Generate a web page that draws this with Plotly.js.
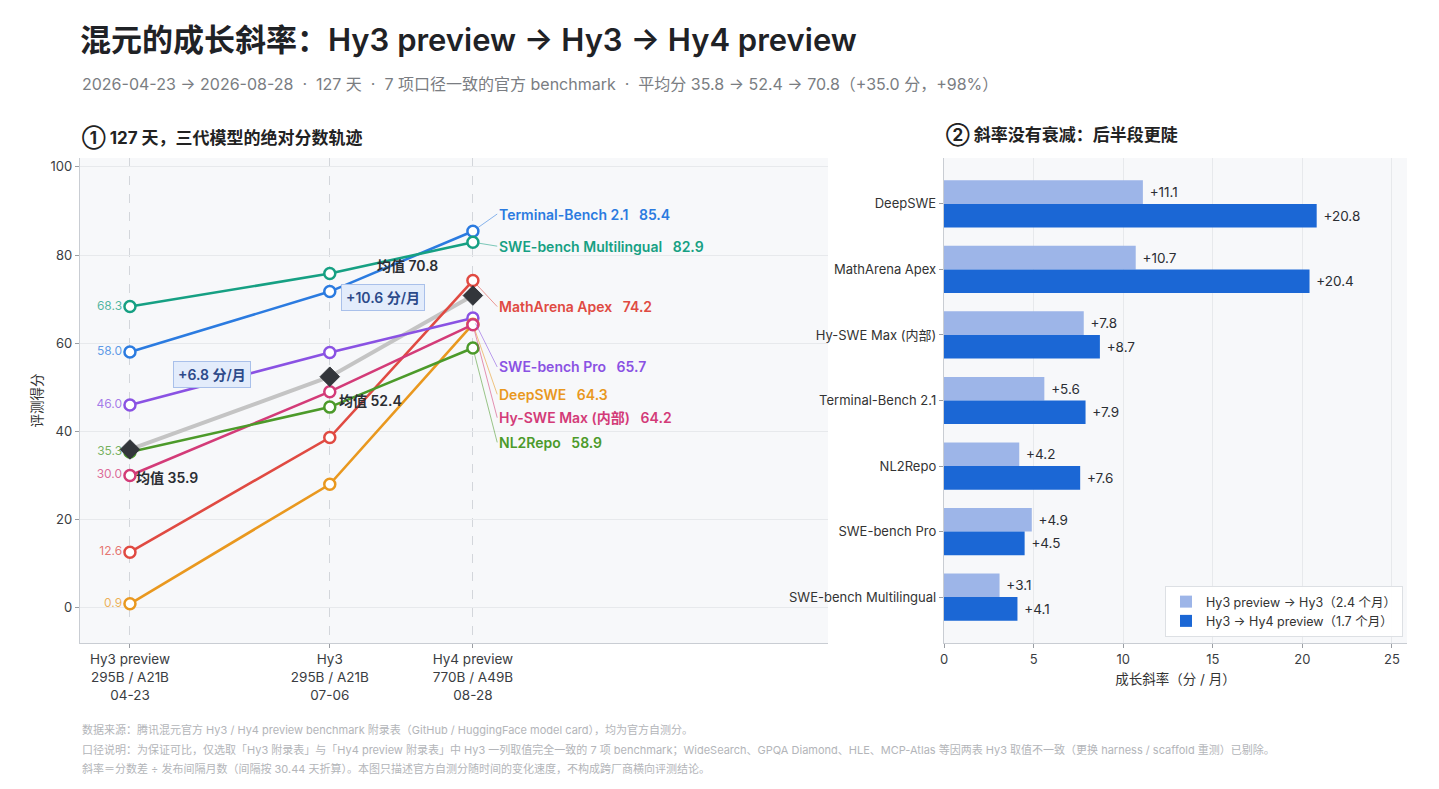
<!DOCTYPE html>
<html>
<head>
<meta charset="utf-8">
<script src="https://cdn.plot.ly/plotly-3.0.1.min.js"></script>
<style>
  html, body { margin: 0; padding: 0; background: #ffffff; }
  #chart { width: 1439px; height: 789px; }
</style>
</head>
<body>
<div id="chart"></div>
<script>
// ---------------- DATA ----------------
const releaseDates = ['04-23', '07-06', '08-28'];
const modelNames = ['Hy3 preview', 'Hy3', 'Hy4 preview'];
const modelParams = ['295B / A21B', '295B / A21B', '770B / A49B'];
const releaseDay = [0, 74, 127]; // days since 2026-04-23

const seriesNames = ['Terminal-Bench 2.1', 'SWE-bench Multilingual', 'MathArena Apex', 'SWE-bench Pro', 'DeepSWE', 'Hy-SWE Max (内部)', 'NL2Repo'];
const terminalBench = [58.0, 71.7, 85.4];
const sweMultilingual = [68.3, 75.8, 82.9];
const mathArena = [12.6, 38.6, 74.2];
const sweBenchPro = [46.0, 57.9, 65.7];
const deepSWE = [0.9, 28.0, 64.3];
const hySweMax = [30.0, 49.0, 64.2];
const nl2Repo = [35.3, 45.5, 58.9];
const meanScores = [35.9, 52.4, 70.8];
const meanSlopeLabels = ['+6.8 分/月', '+10.6 分/月'];

const slopeCategories = ['DeepSWE', 'MathArena Apex', 'Hy-SWE Max (内部)', 'Terminal-Bench 2.1', 'NL2Repo', 'SWE-bench Pro', 'SWE-bench Multilingual'];
const slopeEarly = [11.1, 10.7, 7.8, 5.6, 4.2, 4.9, 3.1];
const slopeLate = [20.8, 20.4, 8.7, 7.9, 7.6, 4.5, 4.1];
const slopeEarlyName = 'Hy3 preview → Hy3（2.4 个月）';
const slopeLateName = 'Hy3 → Hy4 preview（1.7 个月）';

// ---------------- STYLE ----------------
const seriesValues = [terminalBench, sweMultilingual, mathArena, sweBenchPro, deepSWE, hySweMax, nl2Repo];
const seriesColors = ['#2b7be0', '#16a083', '#e04a42', '#8a52e3', '#e9981f', '#d33b78', '#4c9a2a'];
// end-label vertical positions (score units), spread to avoid overlap
const endLabelY = [89.3, 82.0, 68.3, 54.6, 48.4, 43.1, 37.5];

const FONT = 'Inter, "Noto Sans CJK SC", sans-serif';
const W = 1439, H = 789;
const px = v => v / W;
const py = v => 1 - v / H;

function rgba(hex, a) {
  const n = parseInt(hex.slice(1), 16);
  return `rgba(${(n >> 16) & 255},${(n >> 8) & 255},${n & 255},${a})`;
}

const traces = [];

// mean line (under)
traces.push({
  x: releaseDay, y: meanScores, type: 'scatter', mode: 'lines',
  line: { color: '#c4c4c4', width: 4 }, hoverinfo: 'skip', showlegend: false,
  xaxis: 'x', yaxis: 'y'
});

seriesValues.forEach((vals, i) => {
  traces.push({
    x: releaseDay, y: vals, type: 'scatter', mode: 'lines+markers+text',
    name: seriesNames[i],
    line: { color: seriesColors[i], width: 2.6 },
    marker: { symbol: 'circle', size: 11, color: '#ffffff', line: { color: seriesColors[i], width: 2.5 } },
    text: vals.map((v, j) => j === 0 ? v.toFixed(1) : ''),
    textposition: 'middle left',
    textfont: { family: FONT, size: 12, color: rgba(seriesColors[i], 0.75) },
    hoverinfo: 'skip', showlegend: false, cliponaxis: false,
    xaxis: 'x', yaxis: 'y'
  });
});

// mean diamonds (on top)
traces.push({
  x: releaseDay, y: meanScores, type: 'scatter', mode: 'markers',
  marker: { symbol: 'diamond', size: 15, color: '#33363b', line: { color: '#33363b', width: 1 } },
  hoverinfo: 'skip', showlegend: false, cliponaxis: false,
  xaxis: 'x', yaxis: 'y'
});

// bars
traces.push({
  type: 'bar', orientation: 'h', name: slopeEarlyName,
  y: slopeCategories, x: slopeEarly,
  marker: { color: '#9db5e8' },
  text: slopeEarly.map(v => '\u00a0+' + v.toFixed(1)), textposition: 'outside',
  textfont: { family: FONT, size: 13.5, color: '#2b2e33' }, cliponaxis: false,
  hoverinfo: 'skip', xaxis: 'x2', yaxis: 'y2'
});
traces.push({
  type: 'bar', orientation: 'h', name: slopeLateName,
  y: slopeCategories, x: slopeLate,
  marker: { color: '#1b67d5' },
  text: slopeLate.map(v => '\u00a0+' + v.toFixed(1)), textposition: 'outside',
  textfont: { family: FONT, size: 13.5, color: '#2b2e33' }, cliponaxis: false,
  hoverinfo: 'skip', xaxis: 'x2', yaxis: 'y2'
});

const annotations = [];

// end labels with leader lines
seriesValues.forEach((vals, i) => {
  const last = vals.length - 1;
  annotations.push({
    xref: 'x', yref: 'y', x: releaseDay[last], y: vals[last],
    axref: 'x', ayref: 'y', ax: releaseDay[last] + 9, ay: endLabelY[i],
    showarrow: true, arrowhead: 0, arrowwidth: 1, arrowcolor: rgba(seriesColors[i], 0.55),
    standoff: 6, xanchor: 'left', yanchor: 'middle',
    text: seriesNames[i] + '\u00a0\u00a0\u00a0' + vals[last].toFixed(1),
    font: { family: FONT, size: 14, color: seriesColors[i], weight: 600 }
  });
});

// mean labels
const meanLabelCfg = [
  { xanchor: 'left', xshift: 4, yshift: -28 },
  { xanchor: 'left', xshift: 7, yshift: -24 },
  { xanchor: 'right', xshift: -33, yshift: 30 }
];
meanScores.forEach((m, i) => {
  annotations.push({
    xref: 'x', yref: 'y', x: releaseDay[i], y: m, showarrow: false,
    xanchor: meanLabelCfg[i].xanchor, yanchor: 'middle',
    xshift: meanLabelCfg[i].xshift, yshift: meanLabelCfg[i].yshift,
    text: '均值 ' + m.toFixed(1),
    font: { family: FONT, size: 14, color: '#2b2e33', weight: 600 }
  });
});

// slope boxes
meanSlopeLabels.forEach((lab, i) => {
  annotations.push({
    xref: 'x', yref: 'y',
    x: (releaseDay[i] + releaseDay[i + 1]) / 2, y: (meanScores[i] + meanScores[i + 1]) / 2,
    xshift: -18, yshift: 39, showarrow: false,
    text: lab, bgcolor: '#e3ecfb', bordercolor: '#a9c0ea', borderwidth: 1, borderpad: 4,
    font: { family: FONT, size: 14, color: '#2c4a8a', weight: 600 }
  });
});

// texts
annotations.push({
  xref: 'paper', yref: 'paper', x: px(80), y: py(84), xanchor: 'left', yanchor: 'middle', showarrow: false,
  text: '2026-04-23 → 2026-08-28 \u00a0·\u00a0 127 天 \u00a0·\u00a0 7 项口径一致的官方 benchmark \u00a0·\u00a0 平均分 35.8 → 52.4 → 70.8（+35.0 分，+98%）',
  font: { family: FONT, size: 16, color: '#7a7d82' }
});
annotations.push({
  xref: 'paper', yref: 'paper', x: px(80), y: py(137), xanchor: 'left', yanchor: 'middle', showarrow: false,
  text: '① 127 天，三代模型的绝对分数轨迹',
  font: { family: FONT, size: 17, color: '#222', weight: 700 }
});
annotations.push({
  xref: 'paper', yref: 'paper', x: px(944), y: py(135), xanchor: 'left', yanchor: 'middle', showarrow: false,
  text: '② 斜率没有衰减：后半段更陡',
  font: { family: FONT, size: 17, color: '#222', weight: 700 }
});
const footLines = [
  '数据来源：腾讯混元官方 Hy3 / Hy4 preview benchmark 附录表（GitHub / HuggingFace model card），均为官方自测分。',
  '口径说明：为保证可比，仅选取「Hy3 附录表」与「Hy4 preview 附录表」中 Hy3 一列取值完全一致的 7 项 benchmark；WideSearch、GPQA Diamond、HLE、MCP-Atlas 等因两表 Hy3 取值不一致（更换 harness / scaffold 重测）已剔除。',
  '斜率＝分数差 ÷ 发布间隔月数（间隔按 30.44 天折算）。本图只描述官方自测分随时间的变化速度，不构成跨厂商横向评测结论。'
];
footLines.forEach((t, i) => {
  annotations.push({
    xref: 'paper', yref: 'paper', x: px(80), y: py(730 + i * 19.5), xanchor: 'left', yanchor: 'middle', showarrow: false,
    text: t, font: { family: FONT, size: 11, color: '#b3b5b9' }
  });
});

const axisLine = '#c9cdd3';
const layout = {
  width: W, height: H,
  margin: { l: 0, r: 0, t: 0, b: 0 },
  paper_bgcolor: '#ffffff', plot_bgcolor: '#f7f8fa',
  font: { family: FONT, size: 13, color: '#333' },
  title: {
    text: '混元的成长斜率：Hy3 preview → Hy3 → Hy4 preview',
    x: px(80), xanchor: 'left', xref: 'paper', y: py(40), yanchor: 'middle', yref: 'container',
    font: { family: FONT, size: 31, color: '#1f2226', weight: 600 }
  },
  showlegend: true,
  legend: {
    x: px(1403), xanchor: 'right', y: 1 - 637 / H, yanchor: 'bottom', xref: 'paper', yref: 'paper',
    bgcolor: 'rgba(255,255,255,0.95)', bordercolor: '#dde0e4', borderwidth: 1,
    font: { family: FONT, size: 12.5, color: '#333' }, traceorder: 'normal', itemwidth: 30, tracegroupgap: 2
  },
  barmode: 'group', bargap: 0.28, bargroupgap: 0,
  xaxis: {
    domain: [px(80), px(828)], anchor: 'y', range: [-18.5, 258.5],
    tickmode: 'array', tickvals: releaseDay,
    ticktext: releaseDay.map((d, i) => modelNames[i] + '<br>' + modelParams[i] + '<br>' + releaseDates[i]),
    showgrid: true, gridcolor: '#d3d6db', griddash: 'dash', gridwidth: 1,
    zeroline: false, showline: true, linecolor: axisLine, linewidth: 1.2,
    ticks: 'outside', ticklen: 4, tickcolor: '#9a9ea4',
    tickfont: { family: FONT, size: 13.5, color: '#3a3d42' }, fixedrange: true
  },
  yaxis: {
    domain: [1 - 643 / H, 1 - 158 / H], anchor: 'x', range: [-8, 102],
    tickmode: 'array', tickvals: [0, 20, 40, 60, 80, 100],
    showgrid: true, gridcolor: '#e7e9ec', zeroline: false,
    showline: true, linecolor: axisLine, linewidth: 1.2,
    ticks: 'outside', ticklen: 4, tickcolor: '#9a9ea4',
    tickfont: { family: FONT, size: 13, color: '#3a3d42' },
    title: { text: '评测得分', font: { family: FONT, size: 13.5, color: '#333' }, standoff: 4 },
    fixedrange: true
  },
  xaxis2: {
    domain: [px(944), px(1407)], anchor: 'y2', range: [0, 25.84],
    tickmode: 'array', tickvals: [0, 5, 10, 15, 20, 25],
    showgrid: true, gridcolor: '#e7e9ec', zeroline: false,
    showline: true, linecolor: axisLine, linewidth: 1.2,
    ticks: 'outside', ticklen: 4, tickcolor: '#9a9ea4',
    tickfont: { family: FONT, size: 13, color: '#3a3d42' },
    title: { text: '成长斜率（分 / 月）', font: { family: FONT, size: 13.5, color: '#333' }, standoff: 8 },
    fixedrange: true
  },
  yaxis2: {
    domain: [1 - 643 / H, 1 - 158 / H], anchor: 'x2', type: 'category',
    range: [6.7, -0.7], showgrid: false, zeroline: false,
    showline: true, linecolor: axisLine, linewidth: 1.2,
    ticks: 'outside', ticklen: 4, tickcolor: '#9a9ea4',
    tickfont: { family: FONT, size: 13, color: '#333' }, fixedrange: true
  },
  annotations: annotations
};

Plotly.newPlot('chart', traces, layout, { displayModeBar: false, staticPlot: true });
</script>
</body>
</html>
